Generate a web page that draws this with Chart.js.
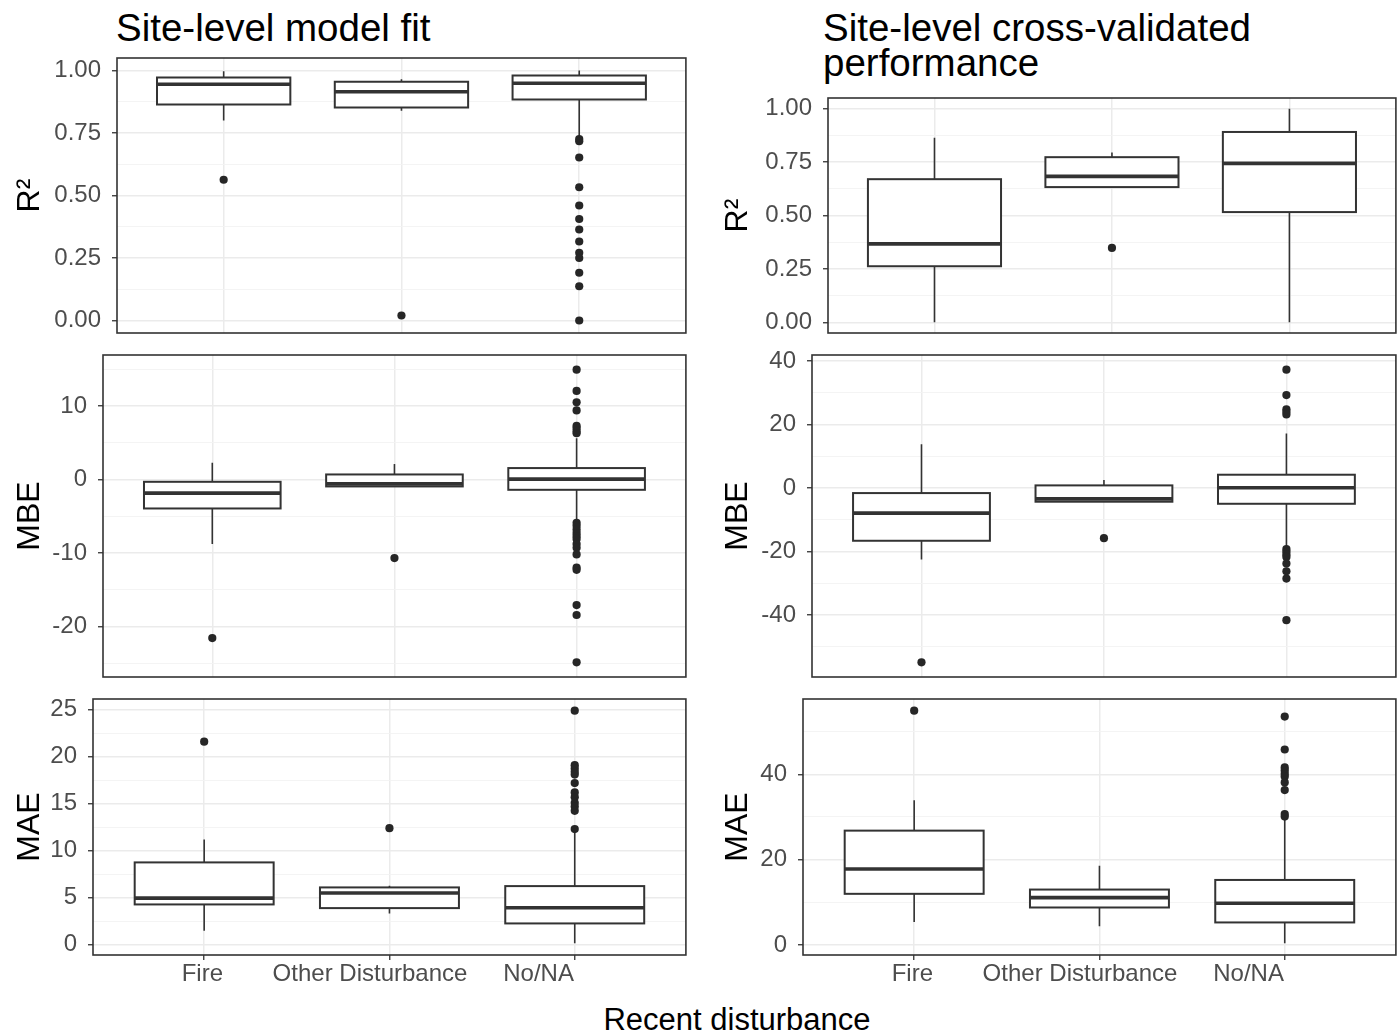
<!DOCTYPE html>
<html>
<head>
<meta charset="utf-8">
<script src="https://cdn.jsdelivr.net/npm/chart.js@4.4.1/dist/chart.umd.min.js"></script>
<style>
  body { margin: 0; width: 1400px; height: 1036px; background: #fff; position: relative; overflow: hidden;
         font-family: "Liberation Sans", Arial, sans-serif; }
  canvas { position: absolute; }
  .title { position: absolute; font-size: 38.5px; line-height: 35px; color: #000; white-space: nowrap; }
  #xtitle { position: absolute; font-size: 31px; line-height: 31px; color: #000; left: 737px; top: 1004px;
            transform: translateX(-50%); white-space: nowrap; }
</style>
</head>
<body>
<div class="title" style="left:116px; top:10px;">Site-level model fit</div>
<div class="title" style="left:823px; top:10px;">Site-level cross-validated<br>performance</div>
<div id="xtitle">Recent disturbance</div>

<canvas id="fitR2"></canvas>
<canvas id="fitMbe"></canvas>
<canvas id="fitMae"></canvas>
<canvas id="cvR2"></canvas>
<canvas id="cvMbe"></canvas>
<canvas id="cvMae"></canvas>

<script>
// categories on the x axis
const categories = ['Fire', 'Other Disturbance', 'No/NA'];

// box stats per category: [lower whisker, Q1, median, Q3, upper whisker]
const fitR2Box = [[0.80, 0.864, 0.945, 0.972, 0.997], [0.839, 0.852, 0.915, 0.955, 0.965], [0.737, 0.884, 0.949, 0.980, 1.0]];
const fitR2Out = [[0.563], [0.02], [0.726, 0.717, 0.652, 0.533, 0.46, 0.406, 0.364, 0.316, 0.271, 0.25, 0.191, 0.137, 0.0]];

const fitMbeBox = [[-8.8, -3.95, -1.86, -0.32, 2.27], [-0.95, -0.95, -0.6, 0.68, 2.1], [-5.6, -1.41, 0.05, 1.55, 5.6]];
const fitMbeOut = [[-21.6], [-10.7],
  [14.95, 12.05, 10.5, 9.4, 7.3, 7.0, 6.6, 6.3, -5.9, -6.3, -6.8, -7.3, -7.7, -8.1, -8.8, -9.3, -10.2, -12.0, -12.3, -17.1, -18.45, -24.9]];

const fitMaeBox = [[1.49, 4.29, 4.96, 8.76, 11.2], [3.33, 3.9, 5.5, 6.1, 6.28], [0.15, 2.27, 3.94, 6.24, 11.9]];
const fitMaeOut = [[21.6], [12.4], [24.9, 19.1, 18.75, 18.4, 18.1, 17.2, 16.2, 15.7, 15.1, 14.7, 14.25, 12.3]];

const cvR2Box = [[0.0, 0.2625, 0.367, 0.670, 0.864], [0.633, 0.633, 0.683, 0.773, 0.795], [0.0, 0.516, 0.744, 0.891, 1.0]];
const cvR2Out = [[], [0.348], []];

const cvMbeBox = [[-22.5, -16.6, -7.9, -1.58, 13.8], [-4.3, -4.3, -3.4, 0.84, 2.5], [-18.3, -4.95, 0.1, 4.2, 17.2]];
const cvMbeOut = [[-54.9], [-15.8], [37.3, 29.3, 24.8, 24.0, 23.2, -19.2, -20.0, -20.9, -21.7, -23.8, -26.2, -28.5, -41.6]];

const cvMaeBox = [[5.4, 12.0, 17.8, 26.8, 33.9], [4.4, 8.8, 11.1, 13.0, 18.6], [0.4, 5.3, 9.8, 15.25, 29.7]];
const cvMaeOut = [[54.9], [], [53.5, 45.8, 41.6, 40.9, 40.1, 39.5, 38.1, 36.3, 30.7, 30.1]];

// y tick values and labels
const r2Ticks = [0, 0.25, 0.5, 0.75, 1];
const r2TickLabels = ['0.00', '0.25', '0.50', '0.75', '1.00'];
const fitMbeTicks = [-20, -10, 0, 10];
const fitMbeTickLabels = ['-20', '-10', '0', '10'];
const fitMaeTicks = [0, 5, 10, 15, 20, 25];
const fitMaeTickLabels = ['0', '5', '10', '15', '20', '25'];
const cvMbeTicks = [-40, -20, 0, 20, 40];
const cvMbeTickLabels = ['-40', '-20', '0', '20', '40'];
const cvMaeTicks = [0, 20, 40];
const cvMaeTickLabels = ['0', '20', '40'];

// the category labels sit a little left of their ticks in the original
const labelShift = [-0.01, -0.105, -0.195];

Chart.defaults.font.family = '"Liberation Sans", Arial, sans-serif';

const INK = '#333333';

function boxPlugin(stats) {
  return {
    id: 'boxes',
    beforeDatasetsDraw(chart) {
      const {ctx, scales: {x, y}} = chart;
      const half = x.getPixelForValue(1.375) - x.getPixelForValue(1);
      ctx.save();
      ctx.strokeStyle = INK;
      stats.forEach((s, i) => {
        const xc = x.getPixelForValue(i + 1);
        const [lo, q1, med, q3, hi] = s.map(v => y.getPixelForValue(v));
        ctx.lineWidth = 1.6;
        ctx.beginPath();
        ctx.moveTo(xc, hi); ctx.lineTo(xc, q3);
        ctx.moveTo(xc, q1); ctx.lineTo(xc, lo);
        ctx.stroke();
        ctx.fillStyle = '#fff';
        ctx.fillRect(xc - half, q3, 2 * half, q1 - q3);
        ctx.lineWidth = 2;
        ctx.strokeRect(xc - half, q3, 2 * half, q1 - q3);
        ctx.lineWidth = 3.6;
        ctx.beginPath();
        ctx.moveTo(xc - half, med); ctx.lineTo(xc + half, med);
        ctx.stroke();
      });
      ctx.restore();
    },
    afterDatasetsDraw(chart) {
      const {ctx, chartArea: a} = chart;
      ctx.save();
      ctx.strokeStyle = INK;
      ctx.lineWidth = 1.6;
      ctx.strokeRect(a.left, a.top, a.right - a.left, a.bottom - a.top);
      ctx.restore();
    }
  };
}

function panel(id, cfg) {
  const canvas = document.getElementById(id);
  canvas.width = cfg.w; canvas.height = cfg.h;
  canvas.style.left = cfg.left + 'px'; canvas.style.top = cfg.top + 'px';

  const points = [];
  cfg.out.forEach((vals, i) => vals.forEach(v => points.push({x: i + 1, y: v})));

  // ggplot style 5% expansion of the data range
  const all = cfg.box.flat().concat(cfg.out.flat());
  const lo = Math.min(...all), hi = Math.max(...all);
  const pad = (hi - lo) * 0.05;
  const yMin = lo - pad, yMax = hi + pad;

  // major ticks plus minor gridlines half way between
  const step = (cfg.ticks[1] - cfg.ticks[0]) / 2;
  const grid = [];
  for (let v = Math.ceil(yMin / step) * step; v <= yMax + 1e-9; v += step) grid.push(Math.round(v * 1e6) / 1e6);
  const majorIdx = v => cfg.ticks.findIndex(m => Math.abs(m - v) < 1e-6);
  const isMajor = c => c.tick && majorIdx(c.tick.value) >= 0;

  new Chart(canvas, {
    type: 'scatter',
    data: {
      datasets: [{
        data: points,
        pointRadius: 4.1,
        pointBackgroundColor: '#262626',
        pointBorderWidth: 0,
        pointHoverRadius: 4.1
      }]
    },
    options: {
      responsive: false,
      animation: false,
      layout: { padding: { top: 30, bottom: cfg.xLabels ? 4 : 30, left: 0, right: 2 } },
      plugins: { legend: { display: false }, tooltip: { enabled: false } },
      scales: {
        x: {
          type: 'linear',
          min: 0.4,
          max: 3.6,
          weight: 0,
          afterBuildTicks: s => { s.ticks = categories.map((c, i) => ({value: i + 1})); },
          afterFit: s => { s.height = cfg.xLabels ? 5 : 0; },
          border: { display: false },
          grid: { color: '#ebebeb', lineWidth: 1.5, drawTicks: cfg.xLabels, tickLength: 5, tickColor: INK, tickWidth: 1.3 },
          ticks: { display: false }
        },
        xl: {
          type: 'linear',
          position: 'bottom',
          display: cfg.xLabels,
          min: 0.4,
          max: 3.6,
          weight: 1,
          afterBuildTicks: s => { s.ticks = categories.map((c, i) => ({value: i + 1 + labelShift[i]})); },
          afterFit: s => { s.height = cfg.xLabels ? 45 : 0; },
          border: { display: false },
          grid: { display: false, drawTicks: false },
          ticks: {
            autoSkip: false,
            maxRotation: 0,
            padding: 0,
            color: '#4d4d4d',
            font: { size: 24 },
            callback: (v, i) => categories[i]
          }
        },
        y: {
          min: yMin,
          max: yMax,
          afterBuildTicks: s => { s.ticks = grid.map(v => ({value: v})); },
          afterFit: s => { s.width = cfg.yWidth; },
          border: { display: false },
          grid: {
            color: c => isMajor(c) ? '#ebebeb' : '#f3f3f3',
            lineWidth: c => isMajor(c) ? 1.5 : 0.9,
            tickLength: 5,
            tickWidth: 1.3,
            tickColor: c => isMajor(c) ? INK : 'rgba(0,0,0,0)'
          },
          ticks: {
            autoSkip: false,
            padding: 11,
            color: '#4d4d4d',
            font: { size: 24 },
            callback: v => {
              const k = majorIdx(v);
              return k >= 0 ? cfg.labels[k] : '';
            }
          },
          title: { display: true, text: cfg.title, color: '#000', font: { size: 32 }, padding: 0 }
        }
      }
    },
    plugins: [boxPlugin(cfg.box)]
  });
}

panel('fitR2', { left: 11, top: 28, w: 679, h: 335, yWidth: 106, title: 'R²', box: fitR2Box, out: fitR2Out, ticks: r2Ticks, labels: r2TickLabels, xLabels: false });
panel('fitMbe', { left: 11, top: 325, w: 679, h: 382, yWidth: 92, title: 'MBE', box: fitMbeBox, out: fitMbeOut, ticks: fitMbeTicks, labels: fitMbeTickLabels, xLabels: false });
panel('fitMae', { left: 11, top: 669, w: 679, h: 340, yWidth: 82, title: 'MAE', box: fitMaeBox, out: fitMaeOut, ticks: fitMaeTicks, labels: fitMaeTickLabels, xLabels: true });
panel('cvR2', { left: 719, top: 68, w: 681, h: 295, yWidth: 109, title: 'R²', box: cvR2Box, out: cvR2Out, ticks: r2Ticks, labels: r2TickLabels, xLabels: false });
panel('cvMbe', { left: 719, top: 325, w: 681, h: 382, yWidth: 93, title: 'MBE', box: cvMbeBox, out: cvMbeOut, ticks: cvMbeTicks, labels: cvMbeTickLabels, xLabels: false });
panel('cvMae', { left: 719, top: 669, w: 681, h: 340, yWidth: 84, title: 'MAE', box: cvMaeBox, out: cvMaeOut, ticks: cvMaeTicks, labels: cvMaeTickLabels, xLabels: true });
</script>
</body>
</html>
